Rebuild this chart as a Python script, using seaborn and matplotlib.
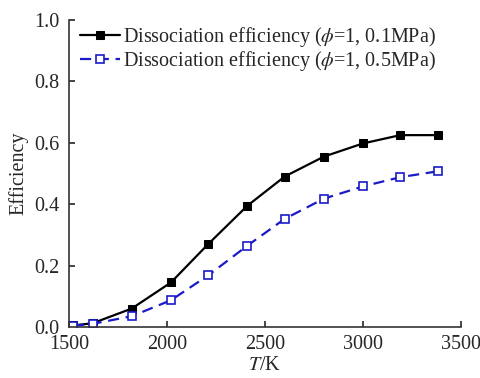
import matplotlib
matplotlib.use("Agg")
import matplotlib.pyplot as plt
import seaborn as sns
import pandas as pd

temps = [1520, 1620, 1820, 2020, 2210, 2410, 2600, 2800, 3000, 3190, 3380]
eff_01 = [0.005, 0.012, 0.060, 0.145, 0.270, 0.395, 0.490, 0.555, 0.598, 0.625, 0.625]
eff_05 = [0.004, 0.010, 0.035, 0.087, 0.168, 0.265, 0.352, 0.418, 0.458, 0.488, 0.507]
labels = [r"Dissociation efficiency ($\phi$=1, 0.1MPa)",
          r"Dissociation efficiency ($\phi$=1, 0.5MPa)"]

sns.set_style("ticks")
plt.rcParams["font.family"] = ["Liberation Serif", "DejaVu Serif"]
plt.rcParams["mathtext.fontset"] = "stix"

df1 = pd.DataFrame({"T": temps, "E": eff_01})
df2 = pd.DataFrame({"T": temps, "E": eff_05})

fig = plt.figure(figsize=(4.81, 3.78), dpi=100)
ax = fig.add_axes([0.1435, 0.135, 0.8150, 0.812])

sns.lineplot(data=df1, x="T", y="E", ax=ax, color="black", marker="s",
             markersize=6, markerfacecolor="black", markeredgecolor="black",
             linewidth=1.6, label=labels[0])
sns.lineplot(data=df2, x="T", y="E", ax=ax, color="#1a1ac8", marker="s",
             markersize=6, markerfacecolor="white", markeredgecolor="#1a1ac8",
             markeredgewidth=1.2, linewidth=1.6, linestyle=(0, (5, 3)), label=labels[1])

ax.set_xlim(1500, 3500)
ax.set_ylim(0, 1.0)
ax.set_xticks([1500, 2000, 2500, 3000, 3500])
ax.set_yticks([0.0, 0.2, 0.4, 0.6, 0.8, 1.0])
ax.set_yticklabels(["0.0", "0.2", "0.4", "0.6", "0.8", "1.0"])
ax.tick_params(direction="in", labelsize=14.5, width=1.2, length=4)
ax.tick_params(axis="y", pad=7)
ax.tick_params(axis="x", pad=6)
for s in ["left", "bottom"]:
    ax.spines[s].set_linewidth(1.2)
    ax.spines[s].set_color("#333333")
sns.despine(ax=ax)
ax.set_xlabel(r"$T$/K", fontsize=14.5, labelpad=1)
ax.set_ylabel("Efficiency", fontsize=14.5, labelpad=4)

leg = ax.legend(loc="upper left", frameon=False, fontsize=14.5,
                handlelength=2.0, handletextpad=0.12, borderaxespad=0.0,
                labelspacing=0.0, bbox_to_anchor=(0.007, 1.01))

fig.savefig("out.png", dpi=100)
